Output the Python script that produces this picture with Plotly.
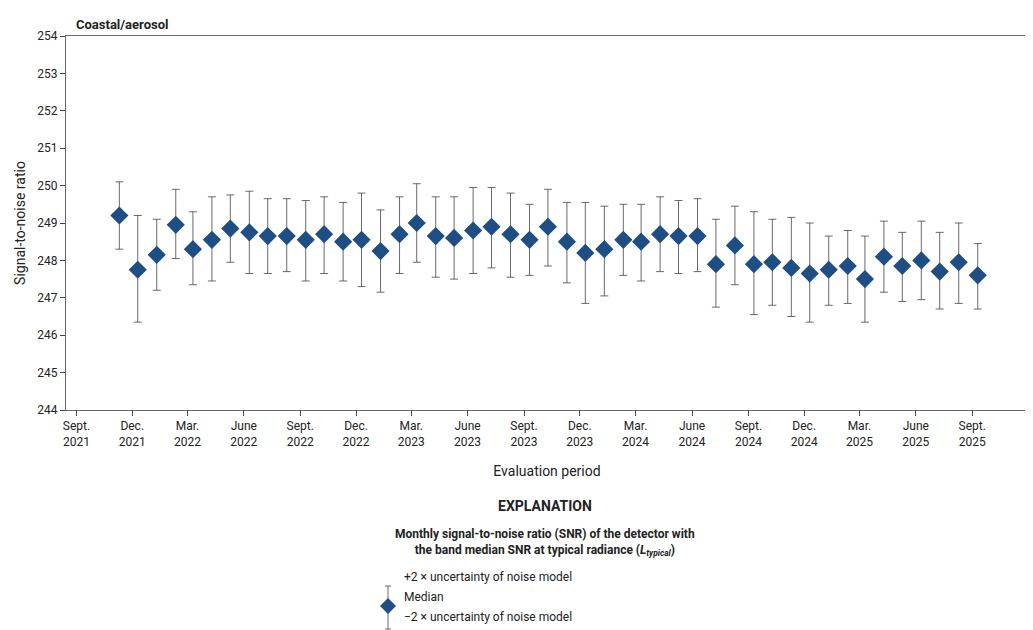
import plotly.graph_objects as go
import pandas as pd

months = pd.date_range("2021-11-01", periods=47, freq="MS") + pd.Timedelta(days=9)
median = [249.2,247.75,248.15,248.95,248.3,248.55,248.85,248.75,248.65,248.65,248.55,248.7,
          248.5,248.55,248.25,248.7,249.0,248.65,248.6,248.8,248.9,248.7,248.55,248.9,
          248.5,248.2,248.3,248.55,248.5,248.7,248.65,248.65,247.9,248.4,247.9,247.95,
          247.8,247.65,247.75,247.85,247.5,248.1,247.85,248.0,247.7,247.95,247.6]
upper = [250.1,249.2,249.1,249.9,249.3,249.7,249.75,249.85,249.65,249.65,249.6,249.7,
         249.55,249.8,249.35,249.7,250.05,249.7,249.7,249.95,249.95,249.8,249.5,249.9,
         249.55,249.55,249.45,249.5,249.5,249.7,249.6,249.65,249.1,249.45,249.3,249.1,
         249.15,249.0,248.65,248.8,248.65,249.05,248.75,249.05,248.75,249.0,248.45]
lower = [248.3,246.35,247.2,248.05,247.35,247.45,247.95,247.65,247.65,247.7,247.45,247.65,
         247.45,247.3,247.15,247.65,247.95,247.55,247.5,247.65,247.8,247.55,247.6,247.85,
         247.4,246.85,247.05,247.6,247.45,247.7,247.65,247.7,246.75,247.35,246.55,246.8,
         246.5,246.35,246.8,246.85,246.35,247.15,246.9,246.95,246.7,246.85,246.7]
tick_vals = pd.date_range("2021-09-01", "2025-09-01", freq="3MS")
tick_text = [f"{ {9:'Sept.',12:'Dec.',3:'Mar.',6:'June'}[d.month]}<br>{d.year}" for d in tick_vals]

font = "Liberation Sans Narrow, Roboto, Arial"
fig = go.Figure(go.Scatter(
    x=months, y=median, mode="markers",
    marker=dict(symbol="diamond", size=14, color="#1f4e85", line=dict(width=0)),
    error_y=dict(type="data", symmetric=False,
                 array=[u - m for u, m in zip(upper, median)],
                 arrayminus=[m - l for m, l in zip(median, lower)],
                 color="#444", thickness=0.8, width=4),
    showlegend=False))

L, R, T, B = 58, 13, 28, 228
fig.update_layout(
    width=1033, height=630, margin=dict(l=L, r=R, t=T, b=B, autoexpand=False),
    plot_bgcolor="white", paper_bgcolor="white",
    font=dict(family=font, size=12, color="#222"),
    xaxis=dict(range=["2021-08-15", "2025-12-01"], tickvals=tick_vals, ticktext=tick_text,
               ticks="outside", ticklen=5, showgrid=False, showline=True, mirror=True,
               linecolor="#666", linewidth=1, automargin=False,
               title=dict(text="Evaluation period", font=dict(size=14), standoff=18)),
    yaxis=dict(range=[244, 254], dtick=1, ticks="outside", ticklen=5, showgrid=False,
               showline=True, mirror=True, linecolor="#666", linewidth=1, automargin=False,
               title=dict(text="Signal-to-noise ratio", font=dict(size=14), standoff=8)),
)
PW, PH = 1033 - L - R, 630 - T - B
def py(p):
    return (630 - B - p) / PH
def px(p):
    return (p - L) / PW
fig.add_annotation(x=0, y=1, xref="paper", yref="paper", text="<b>Coastal/aerosol</b>",
                   showarrow=False, xanchor="left", yanchor="bottom", xshift=8, yshift=2, font=dict(size=13))
fig.add_annotation(x=px(537), y=py(508), xref="paper", yref="paper", text="<b>EXPLANATION</b>",
                   showarrow=False, font=dict(size=14))
fig.add_annotation(x=px(537), y=py(552), xref="paper", yref="paper",
                   text="<b>Monthly signal-to-noise ratio (SNR) of the detector with<br>the band median SNR at typical radiance (<i>L<sub>typical</sub></i>)</b>",
                   showarrow=False, font=dict(size=12), align="center")
for yy, t in [(578, "+2 × uncertainty of noise model"), (598, "Median"), (618, "−2 × uncertainty of noise model")]:
    fig.add_annotation(x=px(394), y=py(yy), xref="paper", yref="paper", text=t, showarrow=False,
                       xanchor="left", font=dict(size=12))
fig.add_shape(type="line", xref="paper", yref="paper", x0=px(380), x1=px(380), y0=py(578), y1=py(621),
              line=dict(color="#444", width=0.8))
for yy in (578, 621):
    fig.add_shape(type="line", xref="paper", yref="paper", x0=px(377), x1=px(383), y0=py(yy), y1=py(yy),
                  line=dict(color="#444", width=0.8))
fig.add_shape(type="path", xref="paper", yref="paper",
              path=f"M {px(372)} {py(598)} L {px(380)} {py(590)} L {px(388)} {py(598)} L {px(380)} {py(606)} Z",
              fillcolor="#1f4e85", line=dict(width=0))
fig.write_html("out.html")
